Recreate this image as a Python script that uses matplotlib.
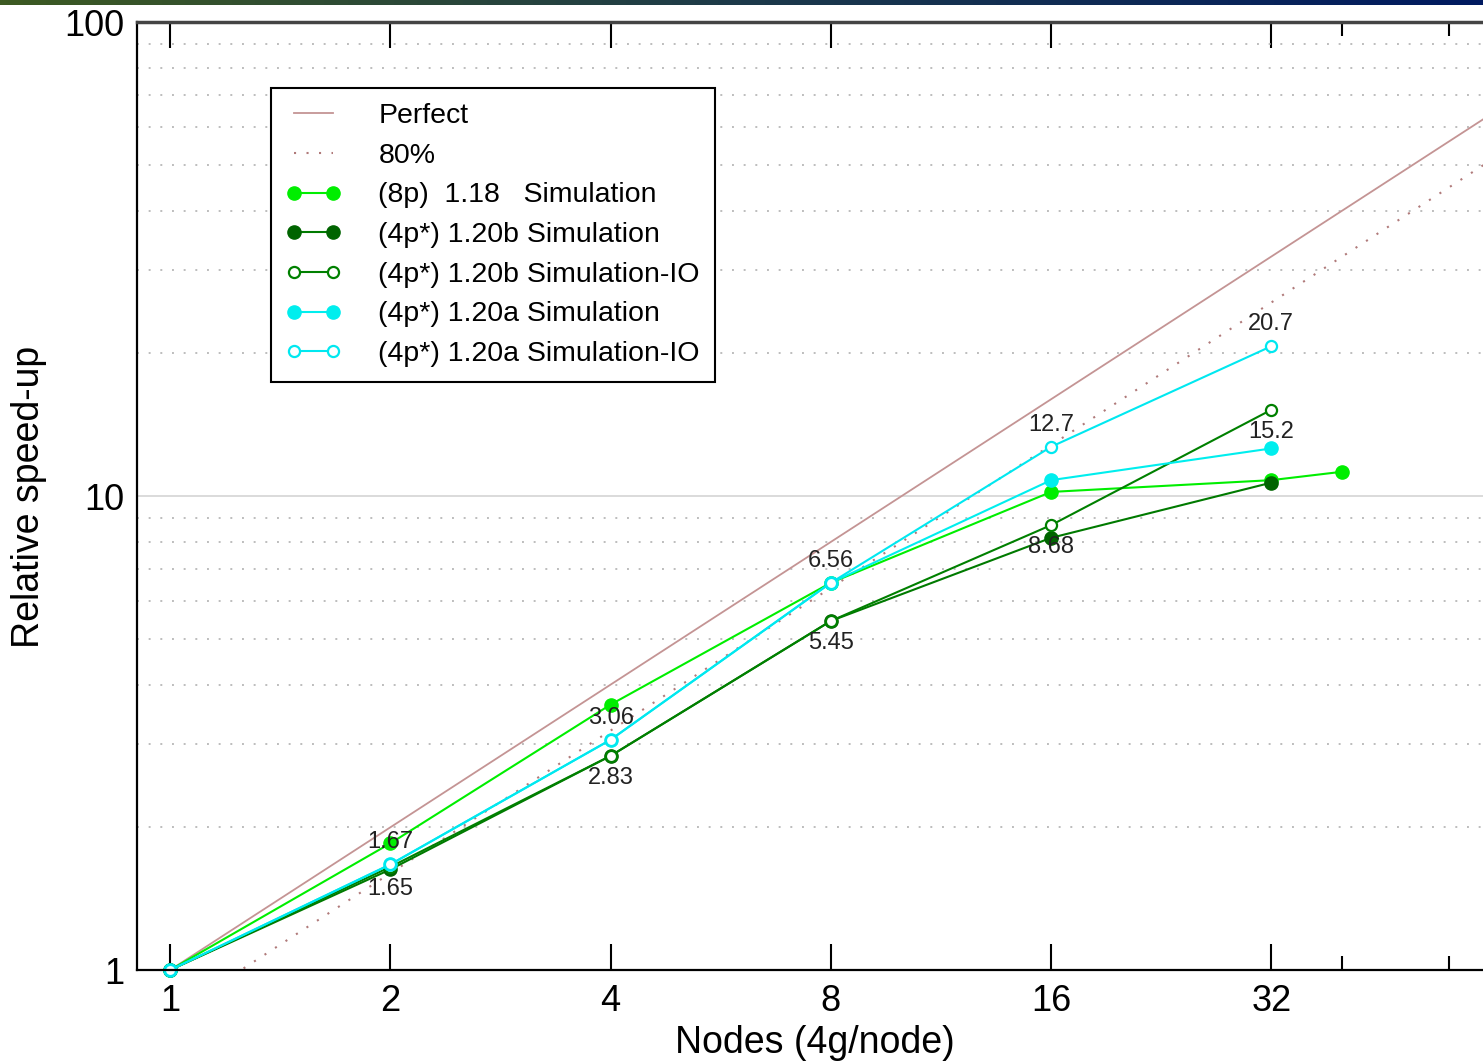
import numpy as np
import matplotlib
matplotlib.use('Agg')
import matplotlib.pyplot as plt
from matplotlib.colors import LinearSegmentedColormap
from matplotlib.ticker import FixedLocator, NullFormatter, LogLocator

plt.rcParams['font.family'] = ['Liberation Sans', 'DejaVu Sans']

# data
nodes = [1, 2, 4, 8, 16, 32]
nodes_118 = [1, 2, 4, 8, 16, 32, 40]
sim_118 = [1.0, 1.85, 3.63, 6.56, 10.2, 10.8, 11.25]
sim_120b = [1.0, 1.63, 2.83, 5.45, 8.16, 10.67]
simio_120b = [1.0, 1.65, 2.83, 5.45, 8.68, 15.2]
sim_120a = [1.0, 1.67, 3.06, 6.56, 10.8, 12.6]
simio_120a = [1.0, 1.67, 3.06, 6.56, 12.7, 20.7]

ref_nodes = [1, 64]
perfect = [1, 64]
eighty = [0.8, 51.2]

x_ticks = [1, 2, 4, 8, 16, 32]
x_minor = [40, 56]
y_ticks = [1, 10, 100]

fig = plt.figure(figsize=(14.83, 10.62), dpi=100)

# slide header band
band = fig.add_axes([0, 1 - 5 / 1062, 1, 5 / 1062])
cm = LinearSegmentedColormap.from_list('band', ['#3d5a22', '#1d3a4a', '#001a60'])
band.imshow(np.linspace(0, 1, 256)[None, :], aspect='auto', cmap=cm)
band.axis('off')

ax = fig.add_axes([137 / 1483, 92 / 1062, 1346 / 1483, 948 / 1062])
ax.set_xscale('log', base=2)
ax.set_yscale('log')
ax.set_xlim(0.901, 62.3)
ax.set_ylim(1, 100)

ref_col = '#c49494'
ax.plot(ref_nodes, perfect, color=ref_col, lw=1.3, label='Perfect')
ax.plot(ref_nodes, eighty, color='#b07a7a', lw=1.5, ls=(0, (1, 5)), label='80%')

kw = dict(lw=1.5, ms=9.5, clip_on=False)
ax.plot(nodes_118, sim_118, color='#00ee00', marker='o', mfc='#00ee00', mec='#00ee00',
        label='(8p)  1.18   Simulation', **kw)
ax.plot(nodes, sim_120b, color='#007a00', marker='o', mfc='#006400', mec='#006400',
        label='(4p*) 1.20b Simulation', **kw)
ax.plot(nodes, simio_120b, color='#008000', marker='o', mfc='white', mec='#008000', mew=1.6,
        label='(4p*) 1.20b Simulation-IO', lw=1.5, ms=8, clip_on=False)
ax.plot(nodes, sim_120a, color='#00eeee', marker='o', mfc='#00eeee', mec='#00eeee',
        label='(4p*) 1.20a Simulation', **kw)
ax.plot(nodes, simio_120a, color='#00e8f0', marker='o', mfc='white', mec='#00e8f0', mew=1.6,
        label='(4p*) 1.20a Simulation-IO', lw=1.5, ms=8, clip_on=False)

# value labels
for x, v in zip(nodes[1:], simio_120a[1:]):
    ax.annotate(f'{v:g}', (x, v), xytext=(0, 16), textcoords='offset points',
                ha='center', va='center', fontsize=17, color='#222222')
for x, v in zip(nodes[1:], simio_120b[1:]):
    ax.annotate(f'{v:g}', (x, v), xytext=(0, -16), textcoords='offset points',
                ha='center', va='center', fontsize=17, color='#222222')

# axes styling
ax.xaxis.set_major_locator(FixedLocator(x_ticks))
ax.set_xticklabels([str(t) for t in x_ticks])
ax.xaxis.set_minor_locator(FixedLocator(x_minor))
ax.xaxis.set_minor_formatter(NullFormatter())
ax.tick_params(axis='x', which='major', direction='in', length=19, width=1.5,
               top=True, labelsize=26, pad=10, colors='black')
ax.tick_params(axis='x', which='minor', direction='in', length=10, width=1.5, top=True)

ax.yaxis.set_major_locator(FixedLocator(y_ticks))
ax.set_yticklabels([str(t) for t in y_ticks])
ax.yaxis.set_minor_locator(LogLocator(base=10, subs=np.arange(2, 10)))
ax.yaxis.set_minor_formatter(NullFormatter())
ax.tick_params(axis='y', which='both', length=0, labelsize=26, pad=9)

ax.yaxis.grid(True, which='major', color='#d4d4d4', lw=1.2, ls='-')
ax.yaxis.grid(True, which='minor', color='#bdbdbd', lw=1.4, ls=(0, (1, 5)))
ax.set_axisbelow(True)

ax.spines['right'].set_visible(False)
ax.spines['top'].set_color('#444444')
ax.spines['top'].set_linewidth(2.5)
ax.spines['left'].set_linewidth(1.6)
ax.spines['bottom'].set_linewidth(1.6)

fig.text(29 / 1483, 1 - 497 / 1062, 'Relative speed-up', rotation=90,
         ha='center', va='center', fontsize=27)
fig.text(815 / 1483, 1 - 1043 / 1062, 'Nodes (4g/node)',
         ha='center', va='center', fontsize=27)

leg = ax.legend(loc='upper left', bbox_to_anchor=(0.0996, 0.930), borderaxespad=0,
                fontsize=20.5, fancybox=False, edgecolor='black', framealpha=1,
                handlelength=1.95, handletextpad=1.3, labelspacing=0.48,
                borderpad=0.52, numpoints=2)
leg.get_frame().set_linewidth(1.5)

fig.savefig('out.png', dpi=100)
